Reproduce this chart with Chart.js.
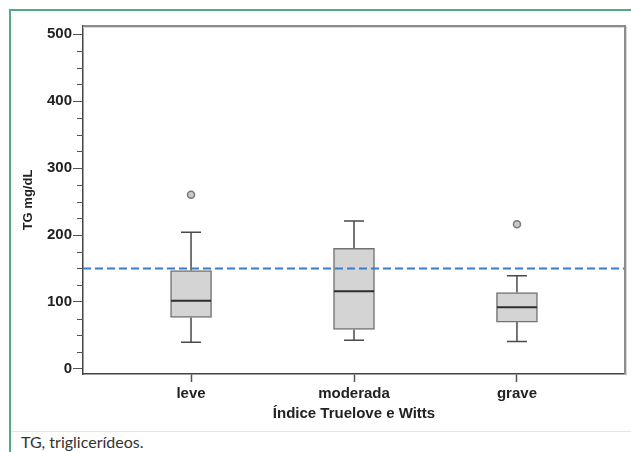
<!DOCTYPE html>
<html>
<head>
<meta charset="utf-8">
<script src="https://cdn.jsdelivr.net/npm/chart.js@4"></script>
<style>
  html, body { margin: 0; padding: 0; background: #fff; }
  body { width: 631px; height: 452px; position: relative; overflow: hidden; }
  .frame { position: absolute; left: 9px; top: 9px; right: -5px; bottom: -5px;
           border-left: 2px solid #52ab83; border-top: 2px solid #52ab83; }
  .sep { position: absolute; left: 11px; right: 0; top: 431px; height: 1px; background: #e4e4e4; }
  .caption { position: absolute; left: 21px; top: 432px; font: 16px Lato, sans-serif; color: #333; }
  #wrap { position: absolute; left: 0; top: 0; width: 631px; height: 452px; }
</style>
</head>
<body>
<div class="frame"></div>
<div class="sep"></div>
<div class="caption">TG, triglicerídeos.</div>
<div id="wrap"><canvas id="chart"></canvas></div>
<script>
// categorias e valores (TG mg/dL)
const categories = ['leve', 'moderada', 'grave'];
const whiskerLow = [40, 43, 41];
const q1 = [77, 59, 70];
const median = [102, 116, 92];
const q3 = [147, 180, 114];
const whiskerHigh = [204, 221, 139];
const outliers = [{ cat: 1, value: 260 }, { cat: 3, value: 216 }];
const cutoff = 150;
const yTickLabels = [0, 100, 200, 300, 400, 500];

const xMin = 0.337, xMax = 3.663;

const boxPlugin = {
    id: 'boxParts',
    beforeDatasetsDraw(chart) {
        const { ctx, scales: { x, y } } = chart;
        ctx.save();
        ctx.strokeStyle = '#4a4a4a';
        ctx.lineWidth = 1.5;
        categories.forEach((c, i) => {
            const px = x.getPixelForValue(i + 1);
            ctx.beginPath();
            ctx.moveTo(px, y.getPixelForValue(q3[i]));
            ctx.lineTo(px, y.getPixelForValue(whiskerHigh[i]));
            ctx.moveTo(px, y.getPixelForValue(q1[i]));
            ctx.lineTo(px, y.getPixelForValue(whiskerLow[i]));
            ctx.moveTo(px - 10, y.getPixelForValue(whiskerHigh[i]));
            ctx.lineTo(px + 10, y.getPixelForValue(whiskerHigh[i]));
            ctx.moveTo(px - 10, y.getPixelForValue(whiskerLow[i]));
            ctx.lineTo(px + 10, y.getPixelForValue(whiskerLow[i]));
            ctx.stroke();
        });
        ctx.restore();
    },
    afterDatasetsDraw(chart) {
        const { ctx, scales: { x, y } } = chart;
        ctx.save();
        ctx.strokeStyle = '#2e2e2e';
        ctx.lineWidth = 2;
        categories.forEach((c, i) => {
            const px = x.getPixelForValue(i + 1);
            const py = y.getPixelForValue(median[i]);
            ctx.beginPath();
            ctx.moveTo(px - 20, py);
            ctx.lineTo(px + 20, py);
            ctx.stroke();
        });
        ctx.restore();
    },
    afterDraw(chart) {
        const { ctx, chartArea: a, scales: { y } } = chart;
        ctx.save();
        // moldura superior/direita
        ctx.strokeStyle = '#8c8c8c';
        ctx.lineWidth = 2;
        ctx.beginPath();
        ctx.moveTo(a.left, a.top);
        ctx.lineTo(a.right, a.top);
        ctx.lineTo(a.right, a.bottom);
        ctx.stroke();
        ctx.strokeStyle = '#d8d8d8';
        ctx.lineWidth = 1;
        ctx.beginPath();
        ctx.moveTo(a.left, a.top + 1.5);
        ctx.lineTo(a.right - 1.5, a.top + 1.5);
        ctx.moveTo(a.right + 1.5, a.top);
        ctx.lineTo(a.right + 1.5, a.bottom + 1.5);
        ctx.stroke();
        // ticks menores
        ctx.strokeStyle = '#555';
        ctx.lineWidth = 1;
        for (let v = 25; v < 500; v += 25) {
            if (v % 100 === 0) continue;
            const py = Math.round(y.getPixelForValue(v)) + 0.5;
            ctx.beginPath();
            ctx.moveTo(a.left - 6, py);
            ctx.lineTo(a.left, py);
            ctx.stroke();
        }
        ctx.restore();
    }
};

new Chart(document.getElementById('chart'), {
    data: {
        datasets: [
            {
                type: 'line',
                data: [{ x: xMin, y: cutoff }, { x: xMax, y: cutoff }],
                borderColor: '#3d7acb',
                borderWidth: 2,
                borderDash: [8, 4],
                pointRadius: 0,
                order: 0,
            },
            {
                type: 'scatter',
                data: outliers.map(o => ({ x: o.cat, y: o.value })),
                pointRadius: 3.5,
                backgroundColor: '#c9c9c9',
                borderColor: '#787878',
                borderWidth: 1.5,
                order: 1,
            },
            {
                type: 'bar',
                data: categories.map((c, i) => ({ x: i + 1, y: [q1[i], q3[i]] })),
                backgroundColor: '#d4d4d4',
                borderColor: '#737373',
                borderWidth: 1.5,
                borderSkipped: false,
                barThickness: 41,
                order: 2,
            },
        ],
    },
    options: {
        responsive: true,
        maintainAspectRatio: false,
        animation: false,
        layout: { padding: { left: 20, top: 26, right: 6, bottom: 29 } },
        plugins: { legend: { display: false }, tooltip: { enabled: false } },
        scales: {
            x: {
                type: 'linear',
                min: xMin,
                max: xMax,
                offset: false,
                afterBuildTicks: s => { s.ticks = categories.map((c, i) => ({ value: i + 1 })); },
                afterFit: s => { s.height = 49; },
                grid: { drawOnChartArea: false, offset: false, tickLength: 8, tickColor: '#555', tickWidth: 1.5 },
                border: { color: '#444', width: 1.5 },
                ticks: {
                    callback: v => categories[v - 1],
                    font: { family: 'Liberation Sans, Arial', size: 15, weight: 'bold' },
                    color: '#222',
                    padding: 3,
                    maxRotation: 0,
                },
                title: {
                    display: true,
                    text: 'Índice Truelove e Witts',
                    font: { family: 'Liberation Sans, Arial', size: 15, weight: 'bold' },
                    color: '#222',
                    padding: 0,
                },
            },
            y: {
                min: -7.5,
                max: 512,
                afterBuildTicks: s => { s.ticks = yTickLabels.map(v => ({ value: v })); },
                afterFit: s => { s.width = 63; },
                grid: { drawOnChartArea: false, tickLength: 10, tickColor: '#555', tickWidth: 1 },
                border: { color: '#444', width: 1.5 },
                ticks: {
                    font: { family: 'Liberation Sans, Arial', size: 15, weight: 'bold' },
                    color: '#222',
                    padding: 1,
                },
                title: {
                    display: true,
                    text: 'TG mg/dL',
                    font: { family: 'Liberation Sans, Arial', size: 13, weight: 'bold' },
                    color: '#222',
                    padding: 1,
                },
            },
        },
    },
    plugins: [boxPlugin],
});
</script>
</body>
</html>
